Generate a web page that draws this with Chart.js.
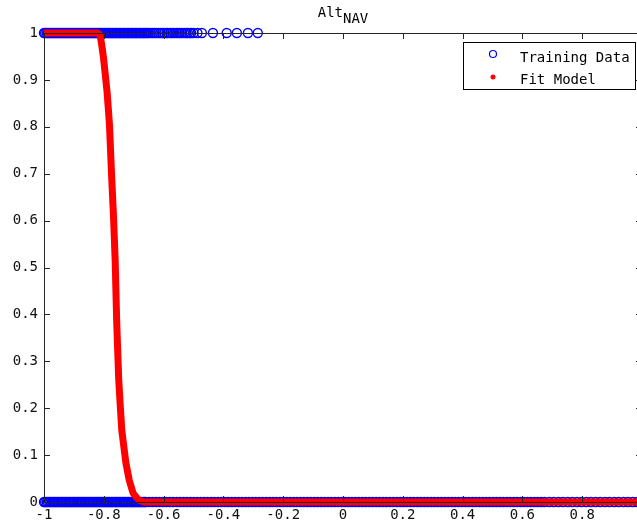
<!DOCTYPE html>
<html>
<head>
<meta charset="utf-8">
<script src="https://cdn.jsdelivr.net/npm/chart.js@4.4.0/dist/chart.umd.min.js"></script>
<style>
  html, body { margin: 0; padding: 0; background: #fff; overflow: hidden; }
  #wrap { width: 680px; height: 527px; }
</style>
</head>
<body>
<div id="wrap"><canvas id="fitChart" width="680" height="527"></canvas></div>
<script>
const xTicks = [-1, -0.8, -0.6, -0.4, -0.2, 0, 0.2, 0.4, 0.6, 0.8, 1]
const yTicks = [0, 0.1, 0.2, 0.3, 0.4, 0.5, 0.6, 0.7, 0.8, 0.9, 1]

// training samples labelled 1
const trainOneX = [
  -1, -0.996, -0.991, -0.987, -0.982, -0.978, -0.973, -0.969, -0.964, -0.96,
  -0.955, -0.951, -0.946, -0.942, -0.937, -0.933, -0.928, -0.924, -0.919, -0.915,
  -0.91, -0.906, -0.901, -0.897, -0.892, -0.888, -0.883, -0.879, -0.874, -0.87,
  -0.865, -0.861, -0.856, -0.852, -0.847, -0.843, -0.838, -0.834, -0.829, -0.825,
  -0.82, -0.816, -0.811, -0.807, -0.802, -0.798, -0.793, -0.789, -0.784, -0.78,
  -0.775, -0.771, -0.766, -0.762, -0.757, -0.753, -0.748, -0.744, -0.739, -0.735,
  -0.73, -0.726, -0.721, -0.717, -0.712, -0.708, -0.703, -0.699, -0.694, -0.69,
  -0.685, -0.681, -0.676, -0.672, -0.667, -0.663, -0.658, -0.654, -0.649,
  -0.643, -0.636, -0.631, -0.624, -0.617, -0.611, -0.604, -0.598, -0.59, -0.586,
  -0.578, -0.571, -0.565, -0.558, -0.553, -0.546, -0.539, -0.531, -0.524, -0.519,
  -0.512, -0.508, -0.5, -0.487, -0.472, -0.435, -0.389, -0.355, -0.318, -0.285
]

// training samples labelled 0
const trainZeroX = [
  -1, -0.996, -0.991, -0.987, -0.982, -0.978, -0.973, -0.969, -0.964, -0.96,
  -0.955, -0.951, -0.946, -0.942, -0.937, -0.933, -0.928, -0.924, -0.919, -0.915,
  -0.91, -0.906, -0.901, -0.897, -0.892, -0.888, -0.883, -0.879, -0.874, -0.87,
  -0.865, -0.861, -0.856, -0.852, -0.847, -0.843, -0.838, -0.834, -0.829, -0.825,
  -0.82, -0.816, -0.811, -0.807, -0.802, -0.798, -0.793, -0.789, -0.784, -0.78,
  -0.775, -0.771, -0.766, -0.762, -0.757, -0.753, -0.748, -0.744, -0.739, -0.735,
  -0.73, -0.726, -0.721, -0.717, -0.712, -0.708, -0.703, -0.699, -0.694, -0.69,
  -0.685, -0.681, -0.676, -0.672, -0.667, -0.663,
  -0.66, -0.648, -0.637, -0.625, -0.614, -0.602, -0.591, -0.579, -0.568, -0.556,
  -0.545, -0.533, -0.522, -0.51, -0.499, -0.487, -0.476, -0.464, -0.453, -0.441,
  -0.43, -0.418, -0.407, -0.395, -0.384, -0.372, -0.361, -0.349, -0.338, -0.326,
  -0.315, -0.303, -0.292, -0.28, -0.269, -0.257, -0.246, -0.234, -0.223, -0.211,
  -0.2, -0.188, -0.177, -0.165, -0.154, -0.142, -0.131, -0.119, -0.108, -0.096,
  -0.085, -0.073, -0.062, -0.05, -0.039, -0.027, -0.016, -0.004, 0.007, 0.019,
  0.03, 0.042, 0.053, 0.065, 0.076, 0.088, 0.099, 0.111, 0.122, 0.134,
  0.145, 0.157, 0.168, 0.18, 0.191, 0.203, 0.214, 0.226, 0.237, 0.249,
  0.26, 0.272, 0.283, 0.295, 0.306, 0.318, 0.329, 0.341, 0.352, 0.364,
  0.375, 0.387, 0.398, 0.41, 0.421, 0.433, 0.444, 0.456, 0.467, 0.479,
  0.49, 0.502, 0.513, 0.525, 0.536, 0.548, 0.559, 0.571, 0.582, 0.594,
  0.605, 0.617, 0.628, 0.64, 0.651, 0.663, 0.674, 0.69, 0.705, 0.721,
  0.736, 0.752, 0.767, 0.783, 0.798, 0.814, 0.829, 0.845, 0.86, 0.876,
  0.891, 0.907, 0.922, 0.938, 0.953, 0.969, 0.984, 1
]

// logistic fit output
const fitX = [-1, -0.9, -0.82, -0.813, -0.801, -0.789, -0.781, -0.774, -0.768, -0.762,
  -0.757, -0.75, -0.74, -0.726, -0.715, -0.702, -0.683, -0.665, -0.3, 1]
const fitY = [1, 1, 1, 0.996, 0.947, 0.874, 0.804, 0.697, 0.616, 0.516,
  0.388, 0.26, 0.154, 0.083, 0.047, 0.019, 0.004, 0, 0, 0]

const mono = "'DejaVu Sans Mono', monospace"

// title with subscript
const titlePlugin = {
  id: 'titleSub',
  afterDraw(chart) {
    const {ctx, chartArea: a} = chart
    const cx = (a.left + a.right) / 2
    ctx.save()
    ctx.fillStyle = '#000'
    ctx.textBaseline = 'alphabetic'
    ctx.font = '14px ' + mono
    const w1 = ctx.measureText('Alt').width
    const w2 = ctx.measureText('NAV').width
    const x0 = cx - (w1 + w2) / 2
    ctx.fillText('Alt', x0, 17)
    ctx.fillText('NAV', x0 + w1, 23)
    ctx.restore()
  }
}

// axes box with inward ticks on all four sides
const boxPlugin = {
  id: 'axesBox',
  afterDatasetsDraw(chart) {
    const {ctx, chartArea: a, scales} = chart
    ctx.save()
    ctx.strokeStyle = '#262626'
    ctx.lineWidth = 1
    ctx.beginPath()
    ctx.rect(a.left + 0.5, a.top + 0.5, a.right - a.left, a.bottom - a.top)
    xTicks.forEach(v => {
      const px = Math.round(scales.x.getPixelForValue(v)) + 0.5
      ctx.moveTo(px, a.bottom); ctx.lineTo(px, a.bottom - 6)
      ctx.moveTo(px, a.top); ctx.lineTo(px, a.top + 6)
    })
    yTicks.forEach(v => {
      const py = Math.round(scales.y.getPixelForValue(v)) + 0.5
      ctx.moveTo(a.left, py); ctx.lineTo(a.left + 6, py)
      ctx.moveTo(a.right, py); ctx.lineTo(a.right - 6, py)
    })
    ctx.stroke()
    ctx.restore()
  }
}

// legend box in the upper right corner
const legendPlugin = {
  id: 'boxLegend',
  afterDraw(chart) {
    const {ctx, chartArea: a} = chart
    const right = a.right - 7, top = a.top + 9
    const w = 172, h = 47
    const left = right - w
    ctx.save()
    ctx.fillStyle = '#fff'
    ctx.fillRect(left, top, w, h)
    ctx.strokeStyle = '#000'
    ctx.lineWidth = 1
    ctx.strokeRect(left + 0.5, top + 0.5, w, h)

    ctx.strokeStyle = 'blue'
    ctx.lineWidth = 1.2
    ctx.beginPath()
    ctx.arc(left + 30, top + 12, 3.5, 0, Math.PI * 2)
    ctx.stroke()

    ctx.fillStyle = 'red'
    ctx.beginPath()
    ctx.arc(left + 30, top + 35, 2.5, 0, Math.PI * 2)
    ctx.fill()

    ctx.fillStyle = '#000'
    ctx.font = '14px ' + mono
    ctx.textBaseline = 'alphabetic'
    ctx.fillText('Training Data', left + 57, top + 20)
    ctx.fillText('Fit Model', left + 57, top + 42)
    ctx.restore()
  }
}

new Chart(document.getElementById('fitChart'), {
  type: 'scatter',
  data: {
    datasets: [
      {
        label: 'Fit Model',
        data: fitX.map((x, i) => ({x, y: fitY[i]})),
        showLine: true,
        tension: 0.05,
        borderColor: 'red',
        borderWidth: 7,
        borderCapStyle: 'butt',
        borderJoinStyle: 'round',
        pointRadius: 0,
        clip: false,
        order: 0
      },
      {
        label: 'Training Data',
        data: trainOneX.map(x => ({x, y: 1})),
        borderColor: 'blue',
        backgroundColor: 'rgba(0,0,0,0)',
        borderWidth: 1.4,
        pointRadius: 4.5,
        clip: false,
        order: 1
      },
      {
        label: 'Training Data',
        data: trainZeroX.map(x => ({x, y: 0})),
        borderColor: 'blue',
        backgroundColor: 'rgba(0,0,0,0)',
        borderWidth: 1.4,
        pointRadius: 4.5,
        clip: false,
        order: 2
      }
    ]
  },
  options: {
    responsive: false,
    animation: false,
    devicePixelRatio: 1,
    layout: { padding: { top: 33, right: 38, left: 0, bottom: 0 } },
    plugins: { legend: { display: false }, tooltip: { enabled: false } },
    scales: {
      x: {
        type: 'linear',
        min: -1, max: 1,
        afterBuildTicks: s => { s.ticks = xTicks.map(v => ({value: v})) },
        afterFit: s => { s.height = 25 },
        grid: { display: false, drawTicks: false },
        border: { display: false },
        ticks: { padding: 5, color: '#111', font: { family: mono, size: 14 }, callback: v => String(v), maxRotation: 0, autoSkip: false }
      },
      y: {
        type: 'linear',
        min: 0, max: 1,
        afterBuildTicks: s => { s.ticks = yTicks.map(v => ({value: v})) },
        afterFit: s => { s.width = 44 },
        grid: { display: false, drawTicks: false },
        border: { display: false },
        ticks: { padding: 6, color: '#111', font: { family: mono, size: 14 }, callback: v => String(v), autoSkip: false }
      }
    }
  },
  plugins: [boxPlugin, titlePlugin, legendPlugin]
})
</script>
</body>
</html>
